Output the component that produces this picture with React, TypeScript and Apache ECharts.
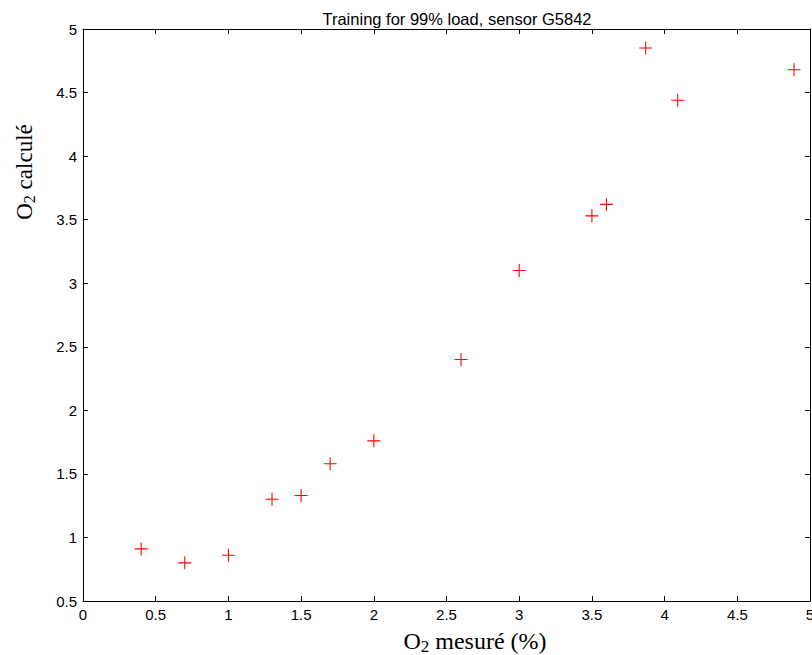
import React, { useEffect, useRef } from "react";
import * as echarts from "echarts";

const measured = [0.4, 0.7, 1.0, 1.3, 1.5, 1.7, 2.0, 2.6, 3.0, 3.5, 3.6, 3.87, 4.09, 4.89];
const computed = [0.91, 0.8, 0.86, 1.3, 1.33, 1.58, 1.76, 2.4, 3.1, 3.53, 3.62, 4.85, 4.44, 4.68];
const xTicks = { min: 0, max: 5, interval: 0.5 };
const yTicks = { min: 0.5, max: 5, interval: 0.5 };
const titleText = "Training for 99% load, sensor G5842";
const xName = "{a|O}{s|2}{a| mesuré (%)}";
const yName = "{a|O}{s|2}{a| calculé}";

const PLUS = "path://M0,5.5H12V6.5H0Z M5.5,0H6.5V12H5.5Z";
const SERIF = "Liberation Serif, Times New Roman, serif";
const SANS = "Liberation Sans, Arial, sans-serif";

export default function App() {
  const ref = useRef<HTMLDivElement>(null);
  useEffect(() => {
    const chart = echarts.init(ref.current!, null, { renderer: "svg" });
    const axisCommon = {
      type: "value" as const,
      axisLine: { show: true, onZero: false, lineStyle: { color: "#000", width: 1 } },
      axisTick: { show: true, inside: true, length: 5, lineStyle: { color: "#000" } },
      splitLine: { show: false },
    };
    const labelStyle = { color: "#000", fontFamily: SANS, fontSize: 15 };
    const nameRich = (size: number) => ({
      a: { fontFamily: SERIF, fontSize: size, fill: "#000" },
      s: { fontFamily: SERIF, fontSize: Math.round(size * 0.7), fill: "#000", padding: [10, 0, 0, 0] },
    });
    chart.setOption({
      animation: false,
      backgroundColor: "#fff",
      title: {
        text: titleText,
        left: 452,
        textAlign: "center",
        top: 5,
        textStyle: { fontFamily: SANS, fontSize: 16.5, fontWeight: "normal", color: "#000" },
      },
      grid: { left: 83, right: 2, top: 29, bottom: 54, containLabel: false, outerBoundsMode: "none" },
      xAxis: [
        {
          ...axisCommon,
          ...xTicks,
          position: "bottom",
          axisLabel: { ...labelStyle, margin: 6, showMaxLabel: true, showMinLabel: true },
        },
        {
          ...axisCommon,
          ...xTicks,
          position: "top",
          axisLabel: { show: false },
        },
      ],
      yAxis: [
        {
          ...axisCommon,
          ...yTicks,
          position: "left",
          axisLabel: { ...labelStyle, margin: 6, showMaxLabel: true, showMinLabel: true },
        },
        {
          ...axisCommon,
          ...yTicks,
          position: "right",
          axisLabel: { show: false },
        },
      ],
      graphic: [
        {
          type: "text",
          x: 475,
          y: 641,
          style: {
            text: xName,
            align: "center",
            verticalAlign: "middle",
            rich: nameRich(24),
          },
        },
        {
          type: "text",
          x: 24,
          y: 172,
          rotation: Math.PI / 2,
          style: {
            text: yName,
            align: "center",
            verticalAlign: "middle",
            rich: nameRich(23),
          },
        },
      ],
      series: [
        {
          type: "scatter",
          xAxisIndex: 0,
          yAxisIndex: 0,
          data: measured.map((x, i) => [x, computed[i]]),
          symbol: PLUS,
          symbolSize: 13,
          itemStyle: { color: "#ff0000", opacity: 1 },
          emphasis: { disabled: true },
        },
      ],
    });
    return () => chart.dispose();
  }, []);
  return <div ref={ref} style={{ width: 812, height: 655, position: "absolute", left: 0, top: 0 }} />;
}
